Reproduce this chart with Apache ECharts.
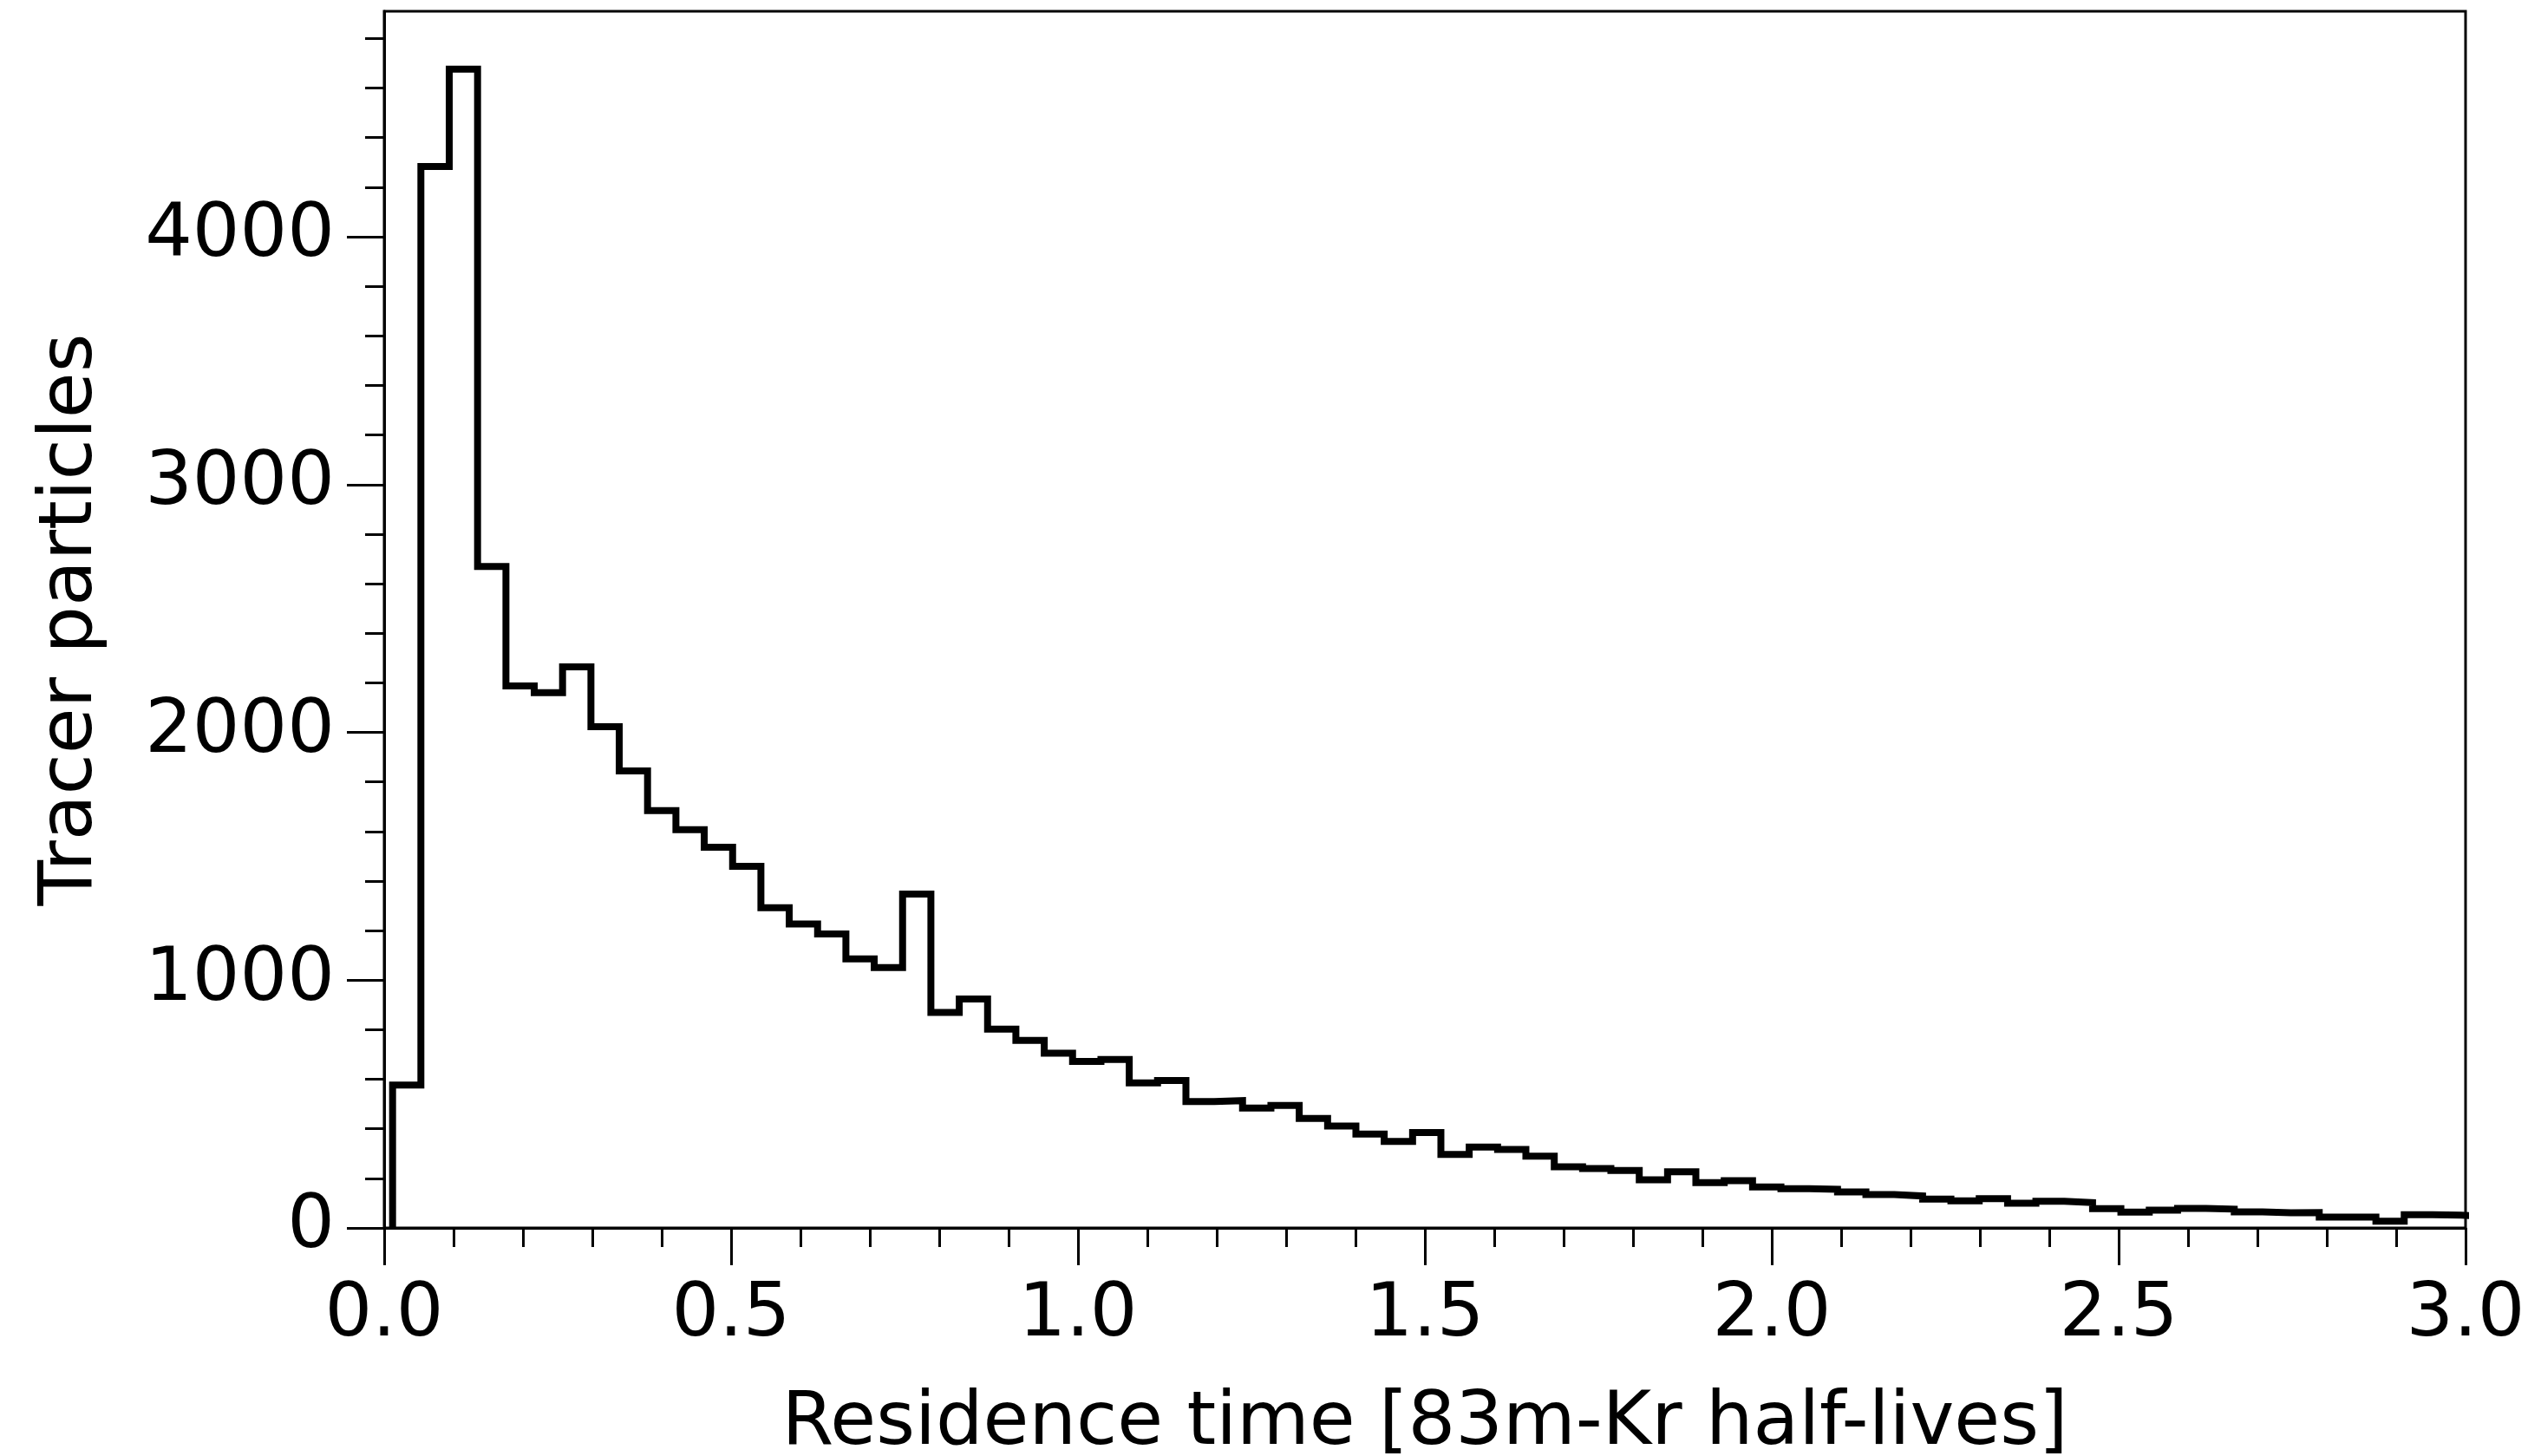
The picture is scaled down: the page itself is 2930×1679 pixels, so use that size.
<!DOCTYPE html>
<html>
<head>
<meta charset="utf-8">
<title>Residence time histogram</title>
<script src="https://cdn.jsdelivr.net/npm/echarts@6/dist/echarts.min.js"></script>
<style>
  html, body { margin: 0; padding: 0; background: #fff; }
  #chart { width: 2930px; height: 1679px; }
</style>
</head>
<body>
<div id="chart"></div>
<script>
// bin edges (residence time, 83m-Kr half-lives)
const binEdges = [
  0.0121, 0.0529, 0.0938, 0.1346, 0.1755, 0.2163, 0.2571, 0.2980, 0.3388, 0.3796,
  0.4205, 0.4613, 0.5022, 0.5430, 0.5838, 0.6247, 0.6655, 0.7063, 0.7472, 0.7880,
  0.8289, 0.8697, 0.9105, 0.9514, 0.9922, 1.0331, 1.0739, 1.1147, 1.1556, 1.1964,
  1.2372, 1.2781, 1.3189, 1.3598, 1.4006, 1.4414, 1.4823, 1.5231, 1.5639, 1.6048,
  1.6456, 1.6865, 1.7273, 1.7681, 1.8090, 1.8498, 1.8906, 1.9315, 1.9723, 2.0132,
  2.0540, 2.0948, 2.1357, 2.1765, 2.2174, 2.2582, 2.2990, 2.3399, 2.3807, 2.4215,
  2.4624, 2.5032, 2.5441, 2.5849, 2.6257, 2.6666, 2.7074, 2.7482, 2.7891, 2.8299,
  2.8708, 2.9116, 2.9524, 2.9933, 3.0341
]

// tracer particle counts per bin
const counts = [
  577, 4284, 4676, 2669, 2187, 2160, 2264, 2023, 1844, 1684,
  1607, 1536, 1459, 1292, 1227, 1186, 1086, 1051, 1347, 870,
  924, 802, 757, 705, 672, 680, 585, 595, 510, 514,
  484, 494, 442, 411, 379, 349, 385, 297, 326, 317,
  290, 247, 240, 232, 194, 227, 183, 191, 165, 158,
  156, 145, 135, 129, 116, 109, 118, 100, 108, 102,
  78, 64, 72, 79, 76, 65, 61, 62, 44, 44,
  27, 53, 52, 46
]

const yMajorTicks = [0, 1000, 2000, 3000, 4000]
const yMinorTicks = [200, 400, 600, 800, 1200, 1400, 1600, 1800, 2200, 2400, 2600, 2800,
  3200, 3400, 3600, 3800, 4200, 4400, 4600, 4800]

const FONT = 'DejaVu Sans'
const FS = 86

// step outline like matplotlib histtype='step'
const outline = [[binEdges[0], 0]]
counts.forEach((c, i) => outline.push([binEdges[i], c]))
outline.push([binEdges[binEdges.length - 1], 0])

const chart = echarts.init(document.getElementById('chart'))

chart.setOption({
  animation: false,
  backgroundColor: '#fff',
  grid: {
    left: 443,
    right: 87,
    top: 13,
    bottom: 263,
    outerBoundsMode: 'none',
    show: true,
    borderColor: '#000',
    borderWidth: 3,
  },
  xAxis: {
    type: 'value',
    min: 0,
    max: 3,
    interval: 0.5,
    name: 'Residence time [83m-Kr half-lives]',
    nameLocation: 'middle',
    nameGap: 184,
    nameTextStyle: { fontFamily: FONT, fontSize: FS, color: '#000' },
    axisLine: { lineStyle: { color: '#000', width: 3 } },
    axisTick: { length: 43, lineStyle: { color: '#000', width: 3 } },
    minorTick: { show: true, splitNumber: 5, length: 22, lineStyle: { color: '#000', width: 3 } },
    axisLabel: {
      margin: 59,
      fontFamily: FONT,
      fontSize: FS,
      color: '#000',
      formatter: v => v.toFixed(1),
    },
    splitLine: { show: false },
    minorSplitLine: { show: false },
  },
  yAxis: [
    {
      type: 'value',
      min: 0,
      max: 4910,
      name: 'Tracer particles',
      nameLocation: 'middle',
      nameGap: 317,
      nameTextStyle: { fontFamily: FONT, fontSize: FS, color: '#000' },
      axisLine: { show: true, lineStyle: { color: '#000', width: 3 } },
      axisTick: { show: true, length: 43, customValues: yMajorTicks, lineStyle: { color: '#000', width: 3 } },
      axisLabel: {
        margin: 57,
        padding: [24, 0, 0, 0],
        fontFamily: FONT,
        fontSize: FS,
        color: '#000',
        customValues: yMajorTicks,
        formatter: v => String(v),
      },
      splitLine: { show: false },
    },
    {
      // minor ticks only
      type: 'value',
      min: 0,
      max: 4910,
      position: 'left',
      axisLine: { show: false },
      axisTick: { show: true, length: 22, customValues: yMinorTicks, lineStyle: { color: '#000', width: 3 } },
      axisLabel: { show: false },
      splitLine: { show: false },
    },
  ],
  series: [
    {
      type: 'line',
      step: 'end',
      data: outline,
      showSymbol: false,
      clip: true,
      lineStyle: { color: '#000', width: 8, join: 'miter', cap: 'butt' },
    },
  ],
})
</script>
</body>
</html>
